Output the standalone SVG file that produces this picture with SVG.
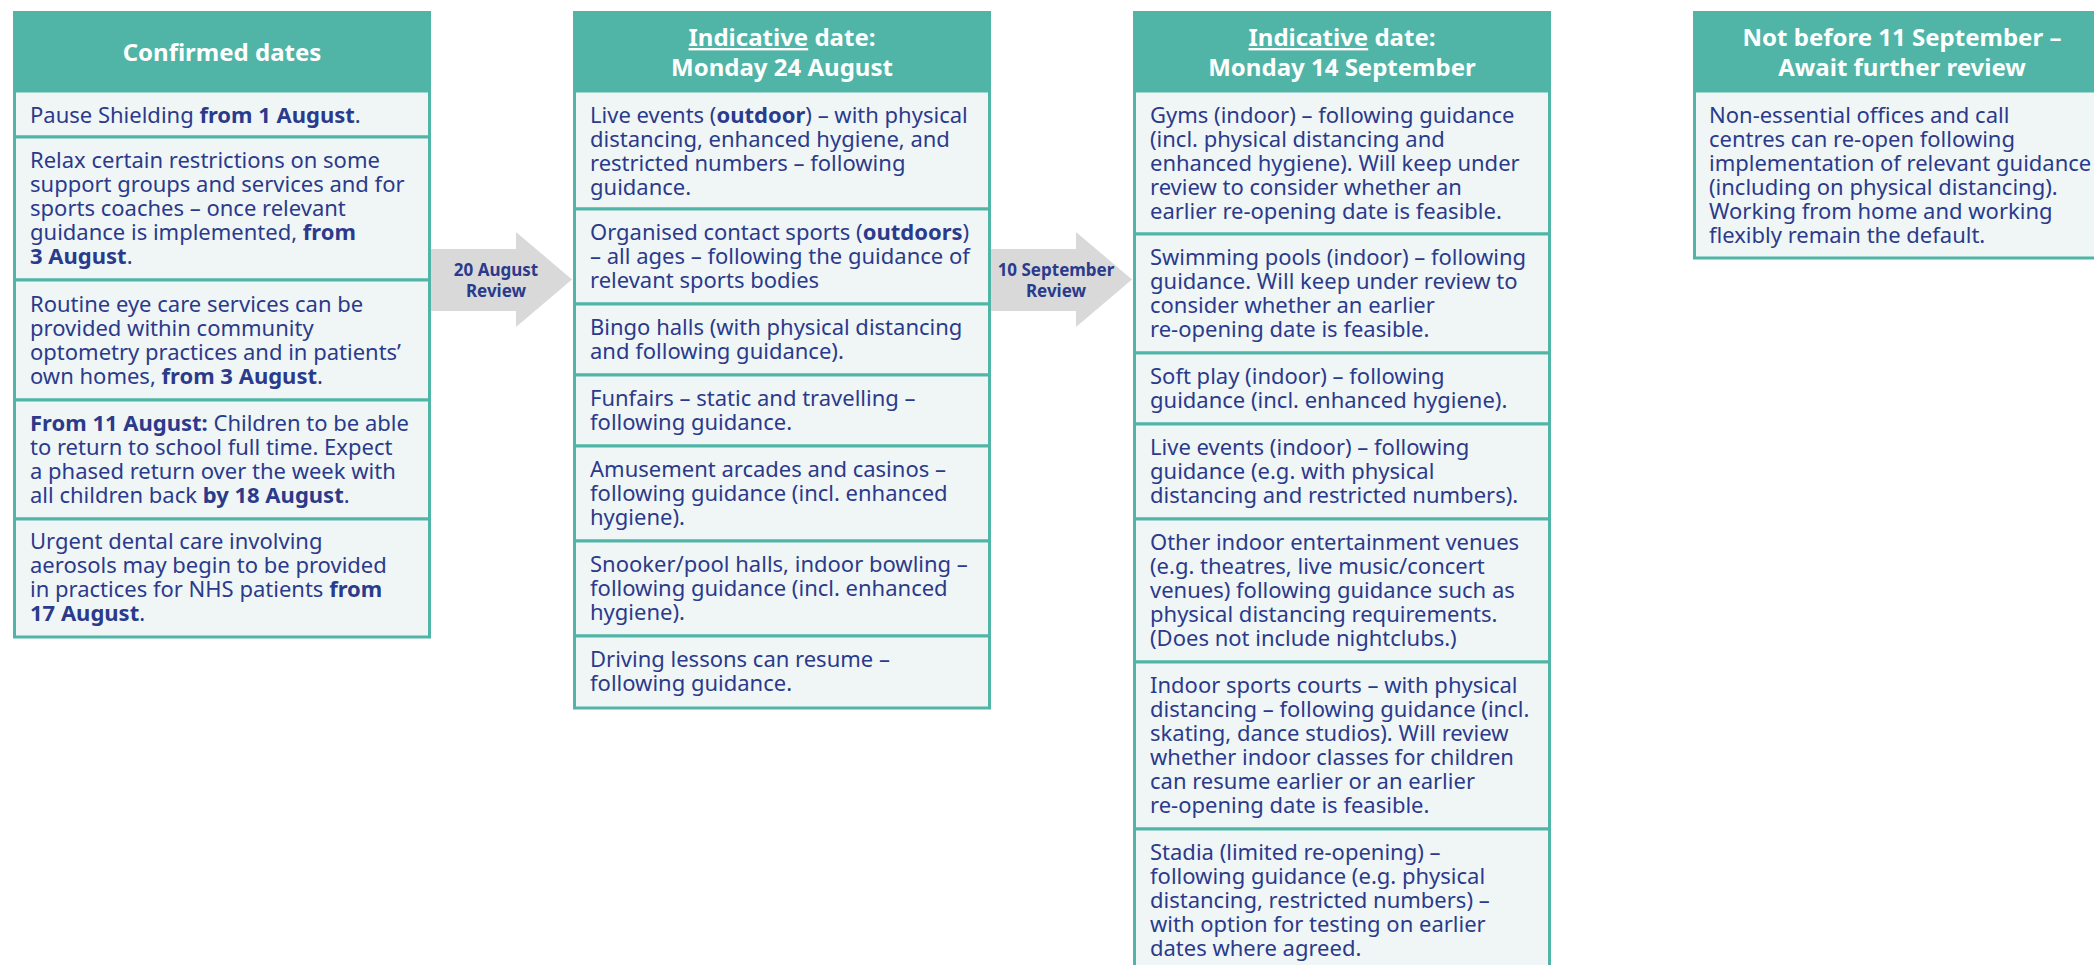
<svg xmlns="http://www.w3.org/2000/svg" width="2094" height="965" viewBox="0 0 2094 965">
<style>
.hd{fill:#50b5a7}
.cell{fill:#f0f6f6;stroke:#50b5a7;stroke-width:3}
.t{font-family:"Noto Sans","Liberation Sans",sans-serif;font-size:22px;fill:#2b3a8b}
.b{font-weight:700}
.h{font-family:"Noto Sans","Liberation Sans",sans-serif;font-size:24px;font-weight:700;fill:#ffffff;text-anchor:middle}
.u{text-decoration:underline}
.arr{fill:#d9d9d9}
.al{font-family:"Noto Sans","Liberation Sans",sans-serif;font-size:17px;font-weight:700;fill:#2b3a8b;text-anchor:middle}
</style>
<rect width="2094" height="965" fill="#ffffff"/>

<g id="connectors">
  <polygon class="arr" points="431,249 516,249 516,232 572,279.5 516,327 516,311 431,311"/>
  <text class="al" x="496" y="276">20 August</text>
  <text class="al" x="496" y="297">Review</text>
  <polygon class="arr" points="991,249 1076,249 1076,232 1132,279.5 1076,327 1076,311 991,311"/>
  <text class="al" x="1056" y="276">10 September</text>
  <text class="al" x="1056" y="297">Review</text>
</g>

<g id="confirmed">
  <rect class="hd" x="13" y="11" width="418" height="80"/>
  <text class="h" x="222" y="61">Confirmed dates</text>
  <rect class="cell" x="14.5" y="91" width="415" height="46"/>
  <rect class="cell" x="14.5" y="137" width="415" height="143"/>
  <rect class="cell" x="14.5" y="280" width="415" height="120"/>
  <rect class="cell" x="14.5" y="400" width="415" height="119"/>
  <rect class="cell" x="14.5" y="519" width="415" height="118"/>
  <text class="t" x="30" y="123">Pause Shielding <tspan class="b">from 1 August</tspan>.</text>
  <text class="t" x="30" y="168">Relax certain restrictions on some</text>
  <text class="t" x="30" y="192">support groups and services and for</text>
  <text class="t" x="30" y="216">sports coaches – once relevant</text>
  <text class="t" x="30" y="240">guidance is implemented, <tspan class="b">from</tspan></text>
  <text class="t" x="30" y="264"><tspan class="b">3 August</tspan>.</text>
  <text class="t" x="30" y="312">Routine eye care services can be</text>
  <text class="t" x="30" y="336">provided within community</text>
  <text class="t" x="30" y="360">optometry practices and in patients’</text>
  <text class="t" x="30" y="384">own homes, <tspan class="b">from 3 August</tspan>.</text>
  <text class="t" x="30" y="431"><tspan class="b">From 11 August:</tspan> Children to be able</text>
  <text class="t" x="30" y="455">to return to school full time. Expect</text>
  <text class="t" x="30" y="479">a phased return over the week with</text>
  <text class="t" x="30" y="503">all children back <tspan class="b">by 18 August</tspan>.</text>
  <text class="t" x="30" y="549">Urgent dental care involving</text>
  <text class="t" x="30" y="573">aerosols may begin to be provided</text>
  <text class="t" x="30" y="597">in practices for NHS patients <tspan class="b">from</tspan></text>
  <text class="t" x="30" y="621"><tspan class="b">17 August</tspan>.</text>
</g>

<g id="aug24">
  <rect class="hd" x="573" y="11" width="418" height="80"/>
  <text class="h" x="782" y="46"><tspan class="u">Indicative</tspan> date:</text>
  <text class="h" x="782" y="76">Monday 24 August</text>
  <rect class="cell" x="574.5" y="91" width="415" height="118"/>
  <rect class="cell" x="574.5" y="209" width="415" height="95"/>
  <rect class="cell" x="574.5" y="304" width="415" height="71"/>
  <rect class="cell" x="574.5" y="375" width="415" height="71"/>
  <rect class="cell" x="574.5" y="446" width="415" height="95"/>
  <rect class="cell" x="574.5" y="541" width="415" height="95"/>
  <rect class="cell" x="574.5" y="636" width="415" height="72"/>
  <text class="t" x="590" y="123">Live events (<tspan class="b">outdoor</tspan>) – with physical</text>
  <text class="t" x="590" y="147">distancing, enhanced hygiene, and</text>
  <text class="t" x="590" y="171">restricted numbers – following</text>
  <text class="t" x="590" y="195">guidance.</text>
  <text class="t" x="590" y="240">Organised contact sports (<tspan class="b">outdoors</tspan>)</text>
  <text class="t" x="590" y="264">– all ages – following the guidance of</text>
  <text class="t" x="590" y="288">relevant sports bodies</text>
  <text class="t" x="590" y="335">Bingo halls (with physical distancing</text>
  <text class="t" x="590" y="359">and following guidance).</text>
  <text class="t" x="590" y="406">Funfairs – static and travelling –</text>
  <text class="t" x="590" y="430">following guidance.</text>
  <text class="t" x="590" y="477">Amusement arcades and casinos –</text>
  <text class="t" x="590" y="501">following guidance (incl. enhanced</text>
  <text class="t" x="590" y="525">hygiene).</text>
  <text class="t" x="590" y="572">Snooker/pool halls, indoor bowling –</text>
  <text class="t" x="590" y="596">following guidance (incl. enhanced</text>
  <text class="t" x="590" y="620">hygiene).</text>
  <text class="t" x="590" y="667">Driving lessons can resume –</text>
  <text class="t" x="590" y="691">following guidance.</text>
</g>

<g id="sep14">
  <rect class="hd" x="1133" y="11" width="418" height="80"/>
  <text class="h" x="1342" y="46"><tspan class="u">Indicative</tspan> date:</text>
  <text class="h" x="1342" y="76">Monday 14 September</text>
  <rect class="cell" x="1134.5" y="91" width="415" height="143"/>
  <rect class="cell" x="1134.5" y="234" width="415" height="119"/>
  <rect class="cell" x="1134.5" y="353" width="415" height="71"/>
  <rect class="cell" x="1134.5" y="424" width="415" height="95"/>
  <rect class="cell" x="1134.5" y="519" width="415" height="143"/>
  <rect class="cell" x="1134.5" y="662" width="415" height="167"/>
  <rect class="cell" x="1134.5" y="829" width="415" height="143"/>
  <text class="t" x="1150" y="123">Gyms (indoor) – following guidance</text>
  <text class="t" x="1150" y="147">(incl. physical distancing and</text>
  <text class="t" x="1150" y="171">enhanced hygiene). Will keep under</text>
  <text class="t" x="1150" y="195">review to consider whether an</text>
  <text class="t" x="1150" y="219">earlier re-opening date is feasible.</text>
  <text class="t" x="1150" y="265">Swimming pools (indoor) – following</text>
  <text class="t" x="1150" y="289">guidance. Will keep under review to</text>
  <text class="t" x="1150" y="313">consider whether an earlier</text>
  <text class="t" x="1150" y="337">re-opening date is feasible.</text>
  <text class="t" x="1150" y="384">Soft play (indoor) – following</text>
  <text class="t" x="1150" y="408">guidance (incl. enhanced hygiene).</text>
  <text class="t" x="1150" y="455">Live events (indoor) – following</text>
  <text class="t" x="1150" y="479">guidance (e.g. with physical</text>
  <text class="t" x="1150" y="503">distancing and restricted numbers).</text>
  <text class="t" x="1150" y="550">Other indoor entertainment venues</text>
  <text class="t" x="1150" y="574">(e.g. theatres, live music/concert</text>
  <text class="t" x="1150" y="598">venues) following guidance such as</text>
  <text class="t" x="1150" y="622">physical distancing requirements.</text>
  <text class="t" x="1150" y="646">(Does not include nightclubs.)</text>
  <text class="t" x="1150" y="693">Indoor sports courts – with physical</text>
  <text class="t" x="1150" y="717">distancing – following guidance (incl.</text>
  <text class="t" x="1150" y="741">skating, dance studios). Will review</text>
  <text class="t" x="1150" y="765">whether indoor classes for children</text>
  <text class="t" x="1150" y="789">can resume earlier or an earlier</text>
  <text class="t" x="1150" y="813">re-opening date is feasible.</text>
  <text class="t" x="1150" y="860">Stadia (limited re-opening) –</text>
  <text class="t" x="1150" y="884">following guidance (e.g. physical</text>
  <text class="t" x="1150" y="908">distancing, restricted numbers) –</text>
  <text class="t" x="1150" y="932">with option for testing on earlier</text>
  <text class="t" x="1150" y="956">dates where agreed.</text>
</g>

<g id="sep11">
  <rect class="hd" x="1693" y="11" width="418" height="80"/>
  <text class="h" x="1902" y="46">Not before 11 September –</text>
  <text class="h" x="1902" y="76">Await further review</text>
  <rect class="cell" x="1694.5" y="91" width="415" height="167"/>
  <text class="t" x="1709" y="123">Non-essential offices and call</text>
  <text class="t" x="1709" y="147">centres can re-open following</text>
  <text class="t" x="1709" y="171">implementation of relevant guidance</text>
  <text class="t" x="1709" y="195">(including on physical distancing).</text>
  <text class="t" x="1709" y="219">Working from home and working</text>
  <text class="t" x="1709" y="243">flexibly remain the default.</text>
</g>
</svg>
